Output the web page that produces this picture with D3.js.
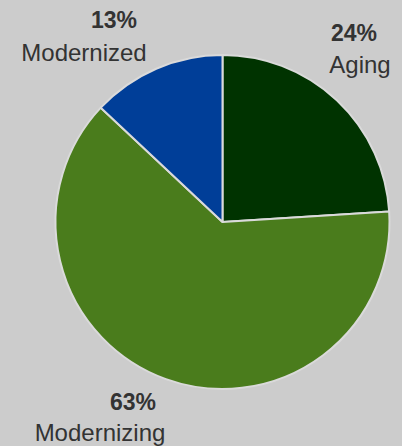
<!DOCTYPE html>
<html><head><meta charset="utf-8">
<script src="https://cdn.jsdelivr.net/npm/d3@7"></script>
<style>html,body{margin:0;padding:0;background:#cccccc;}svg{display:block;}</style>
</head><body>
<svg id="c" width="402" height="446"></svg>
<script>
const categories = ["Aging", "Modernizing", "Modernized"];
const values = [24, 63, 13];
const colors = ["#003300", "#4a7c1c", "#003e98"];
const pctLabels = ["24%", "63%", "13%"];
// label anchor positions [pct x, pct baseline, name x, name baseline]
const labelPos = [
  [354, 41, 360, 73],
  [133, 410, 100, 441],
  [114, 28, 84, 61]
];

const svg = d3.select("#c");
const cx = 222.5, cy = 222, r = 167;
const pie = d3.pie().sort(null).value(d => d)(values);
const arc = d3.arc().innerRadius(0).outerRadius(r);
const g = svg.append("g").attr("transform", `translate(${cx},${cy})`);
g.selectAll("path").data(pie).join("path")
  .attr("d", arc)
  .attr("fill", (d, i) => colors[i])
  .attr("stroke", "#dadada")
  .attr("stroke-width", 2)
  .attr("stroke-linejoin", "round");

const lab = svg.append("g").attr("font-family", "Liberation Sans, Arial, sans-serif").attr("fill", "#333333");
categories.forEach((c, i) => {
  const p = labelPos[i];
  lab.append("text").attr("x", p[0]).attr("y", p[1]).attr("text-anchor", "middle")
    .attr("font-size", 23).attr("font-weight", "bold").text(pctLabels[i]);
  lab.append("text").attr("x", p[2]).attr("y", p[3]).attr("text-anchor", "middle")
    .attr("font-size", 24).text(c);
});
</script>
</body></html>
